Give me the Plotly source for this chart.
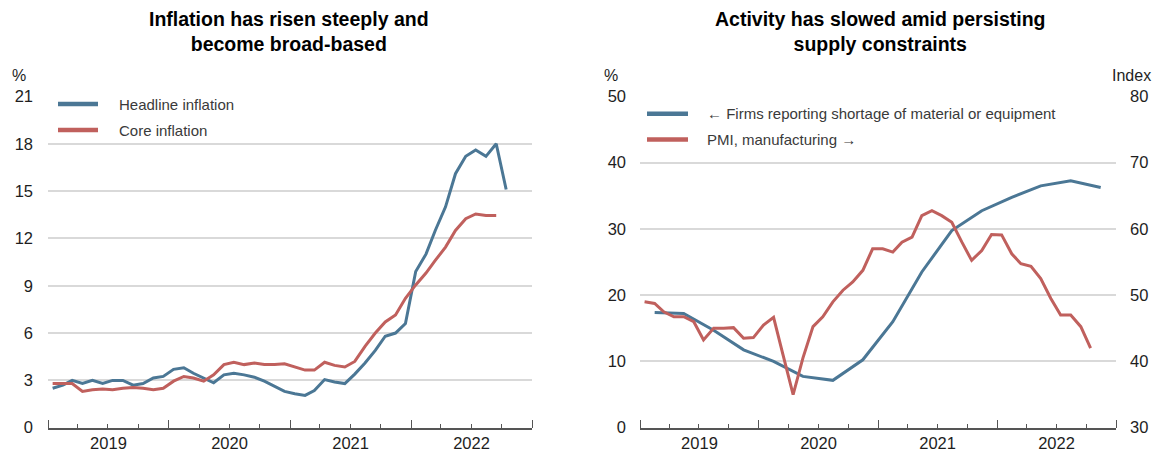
import pandas as pd
import plotly.graph_objects as go

# ---------------- data ----------------
headline_inflation = [2.5, 2.7, 3.0, 2.8, 3.0, 2.8, 3.0, 3.0, 2.7, 2.8, 3.15, 3.25,
                      3.7, 3.8, 3.45, 3.15, 2.85, 3.35, 3.45, 3.35, 3.2, 2.95, 2.6, 2.3,
                      2.15, 2.05, 2.35, 3.05, 2.9, 2.8, 3.4, 4.1, 4.9, 5.8, 6.0, 6.6,
                      9.9, 11.0, 12.5, 14.0, 16.1, 17.2, 17.6, 17.2, 18.0, 15.1]
core_inflation = [2.8, 2.8, 2.8, 2.3, 2.4, 2.45, 2.4, 2.5, 2.55, 2.5, 2.4, 2.5,
                  2.95, 3.25, 3.15, 2.95, 3.35, 4.0, 4.15, 4.0, 4.1, 4.0, 4.0, 4.05,
                  3.85, 3.65, 3.65, 4.15, 3.95, 3.85, 4.2, 5.15, 6.0, 6.7, 7.15, 8.2,
                  9.05, 9.8, 10.6, 11.45, 12.5, 13.25, 13.55, 13.45, 13.45]
firms_shortage = [17.4, 17.25, 14.7, 11.75, 10.0, 7.75, 7.15, 10.25,
                  16.0, 23.5, 29.75, 32.75, 34.75, 36.5, 37.25, 36.25]
pmi_manufacturing = [49.0, 48.75, 47.5, 46.75, 46.75, 46.0, 43.25, 45.0, 45.0, 45.1, 43.5, 43.6,
                     45.5, 46.65, 41.0, 35.0, 40.5, 45.25, 46.75, 49.0, 50.75, 52.0, 53.75, 57.0,
                     57.0, 56.5, 58.0, 58.75, 62.0, 62.75, 62.0, 61.0, 58.0, 55.25, 56.75, 59.15,
                     59.1, 56.25, 54.75, 54.35, 52.5, 49.5, 47.0, 47.0, 45.25, 42.0]

headline_dates = pd.date_range("2019-01-01", periods=len(headline_inflation), freq="MS") + pd.Timedelta(days=14)
core_dates = pd.date_range("2019-01-01", periods=len(core_inflation), freq="MS") + pd.Timedelta(days=14)
pmi_dates = pd.date_range("2019-01-01", periods=len(pmi_manufacturing), freq="MS") + pd.Timedelta(days=14)
shortage_dates = pd.date_range("2019-02-01", periods=len(firms_shortage), freq="3MS") + pd.Timedelta(days=14)

left_title = "Inflation has risen steeply and<br>become broad-based"
right_title = "Activity has slowed amid persisting<br>supply constraints"
left_legend = ["Headline inflation", "Core inflation"]
right_legend = ["\u2190 Firms reporting shortage of material or equipment", "PMI, manufacturing \u2192"]

# ---------------- style ----------------
W, H = 1157, 454
BLUE = "#4b7795"
RED = "#c0605d"
GRID = "#d9d9d9"
AXIS = "#555555"
TXT = "#1e1e1e"
FONT = "Liberation Sans, Arial, sans-serif"
TITLE_FONT = "Liberation Sans, Arial, sans-serif"

def px(x):
    return x / W

def py(y):
    return 1 - y / H

ydom = [py(436), py(91)]
left_dom = [px(48), px(532)]
right_dom = [px(640), px(1116)]

fig = go.Figure()
fig.add_trace(go.Scatter(x=headline_dates, y=headline_inflation, mode="lines",
                         line=dict(color=BLUE, width=3), xaxis="x", yaxis="y", name=left_legend[0]))
fig.add_trace(go.Scatter(x=core_dates, y=core_inflation, mode="lines",
                         line=dict(color=RED, width=3), xaxis="x", yaxis="y", name=left_legend[1]))
fig.add_trace(go.Scatter(x=pmi_dates, y=pmi_manufacturing, mode="lines",
                         line=dict(color=RED, width=3), xaxis="x2", yaxis="y3", name=right_legend[1]))
fig.add_trace(go.Scatter(x=shortage_dates, y=firms_shortage, mode="lines",
                         line=dict(color=BLUE, width=3), xaxis="x2", yaxis="y2", name=right_legend[0]))

def xaxis(domain, anchor):
    return dict(type="date", domain=domain, anchor=anchor,
                range=["2019-01-01", "2023-01-01"],
                tickmode="linear", tick0="2019-01-01", dtick="M12",
                ticklabelmode="period", tickformat="%Y",
                ticks="inside", ticklen=8, tickwidth=1.3, tickcolor=AXIS,
                showline=True, linecolor=AXIS, linewidth=1.5,
                showgrid=False, zeroline=False,
                tickfont=dict(family=FONT, size=16.5, color=TXT),
                minor=dict(ticks="inside", ticklen=4, tickwidth=1.2, tickcolor=AXIS,
                           dtick="M3", tick0="2019-01-01", showgrid=False))

def yaxis(domain, anchor, rng, dtick, side="left", grid=True, standoff=14):
    return dict(domain=domain, anchor=anchor, range=rng, dtick=dtick, tick0=rng[0],
                side=side, showgrid=grid, gridcolor=GRID, gridwidth=1.5,
                zeroline=False, showline=False, ticks="",
                ticklabelstandoff=standoff,
                tickfont=dict(family=FONT, size=16.5, color=TXT))

layout = dict(
    width=W, height=H, margin=dict(l=0, r=0, t=0, b=0),
    paper_bgcolor="white", plot_bgcolor="white", showlegend=False,
    xaxis=xaxis(left_dom, "y"),
    yaxis=yaxis(ydom, "x", [0, 21], 3, standoff=14),
    xaxis2=xaxis(right_dom, "y2"),
    yaxis2=yaxis(ydom, "x2", [0, 50], 10, standoff=13),
    yaxis3=dict(yaxis(ydom, "x2", [30, 80], 10, side="right", grid=False, standoff=13),
                overlaying="y2"),
)
fig.update_layout(**layout)

ann = []
# titles
ann.append(dict(text="<b>" + left_title + "</b>", x=px(289), y=py(23), xref="paper", yref="paper",
                showarrow=False, xanchor="center", yanchor="middle",
                font=dict(family=TITLE_FONT, size=19.5, color="#000")))
ann.append(dict(text="<b>" + right_title + "</b>", x=px(880), y=py(23), xref="paper", yref="paper",
                showarrow=False, xanchor="center", yanchor="middle",
                font=dict(family=TITLE_FONT, size=19.5, color="#000")))
# unit labels
for txt, x in [("%", 19), ("%", 611), ("Index", 1131)]:
    ann.append(dict(text=txt, x=px(x), y=py(69), xref="paper", yref="paper", showarrow=False,
                    xanchor="center", yanchor="middle", font=dict(family=FONT, size=16, color=TXT)))

# manual legends
shapes = []
legend_specs = [
    (left_legend, [BLUE, RED], 58, 98, 117, [99, 126]),
    (right_legend, [BLUE, RED], 647, 688, 705, [109, 136]),
]
for labels, colors, x0, x1, xt, ys in legend_specs:
    for lab, col, yy in zip(labels, colors, ys):
        shapes.append(dict(type="line", xref="paper", yref="paper", x0=px(x0), x1=px(x1),
                           y0=py(yy), y1=py(yy), line=dict(color=col, width=4.5)))
        ann.append(dict(text=lab, x=px(xt), y=py(yy), xref="paper", yref="paper", showarrow=False,
                        xanchor="left", yanchor="middle", font=dict(family=FONT, size=15, color="#3a3a3a")))

fig.update_layout(annotations=ann, shapes=shapes)
fig.write_html("out.html", config={"displayModeBar": False},
               post_script="document.body.style.margin='0';document.body.style.padding='0';")
